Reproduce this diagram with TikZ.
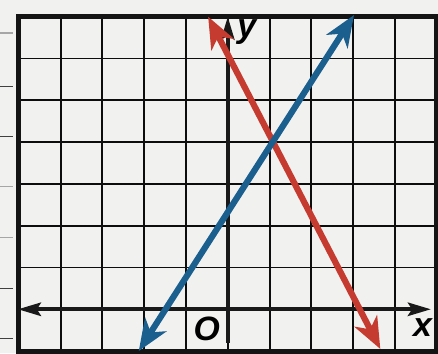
\documentclass[tikz,border=0pt]{standalone}
\usepackage{fontspec}
\setsansfont{Liberation Sans}
\usepackage{tikz}
\usetikzlibrary{arrows.meta}
\usepackage{xcolor}
\definecolor{lred}{HTML}{C63B2F}
\definecolor{lblue}{HTML}{1A5F8E}
\definecolor{paper}{HTML}{F1F1EF}
\tikzset{
  axtip/.tip     = {Stealth[length=5.5mm,width=3.2mm,inset=1mm]},
  bigtip/.tip    = {Stealth[length=7.5mm,width=6mm,inset=2.2mm]},
  gridln/.style  = {line width=1.3pt, black!95},
  frame/.style   = {line width=3.4pt, black!92},
  axis/.style    = {line width=2.6pt, black!90},
  graphln/.style = {line width=4.2pt, bigtip-bigtip},
  lbl/.style     = {font=\fontsize{23}{26}\selectfont\sffamily\bfseries\itshape, inner sep=0pt},
}

\begin{document}
\begin{tikzpicture}[x=1cm,y=1cm]
\fill[paper] (-5.45,-1.05) rectangle (5.03,7.40);
\useasboundingbox (-5.45,-1.05) rectangle (5.03,7.40);
\foreach \t/\c in {6.61/black!35,5.34/black!75,4.14/black!75,2.93/black!35,1.71/black!35,0.49/black!75,-0.69/black!75}
  \draw[\c, line width=0.8pt] (-5.45,\t) -- (-5.14,\t);
\foreach \i in {-4,...,4}
  \draw[gridln] (\i,-1) -- (\i,7);
\foreach \j in {1,...,6}
  \draw[gridln] (-5,\j) -- (5,\j);
\draw[frame] (-5,-1) rectangle (5,7);
\coordinate (xl) at (-5.02,0);
\coordinate (xr) at (4.86,0);
\coordinate (yb) at (0,-0.8);
\coordinate (yt) at (0,7.0);
\draw[axis,axtip-axtip] (xl) -- (xr);
\draw[axis,-axtip] (yb) -- (yt);
\coordinate (r1) at (-0.47,7.0);
\coordinate (r2) at (3.65,-0.95);
\coordinate (b1) at (-2.13,-1.0);
\coordinate (b2) at (3.02,7.04);
\draw[graphln,lred] (r1) -- (r2);
\draw[graphln,lblue] (b1) -- (b2);
\node[lbl, anchor=base west] (ylab) at (0.22,6.51) {y};
\node[lbl, anchor=base] (xlab) at (4.66,-0.66) {x};
\node[lbl, anchor=base] (orig) at (-0.5,-0.75) {O};
\end{tikzpicture}
\end{document}
